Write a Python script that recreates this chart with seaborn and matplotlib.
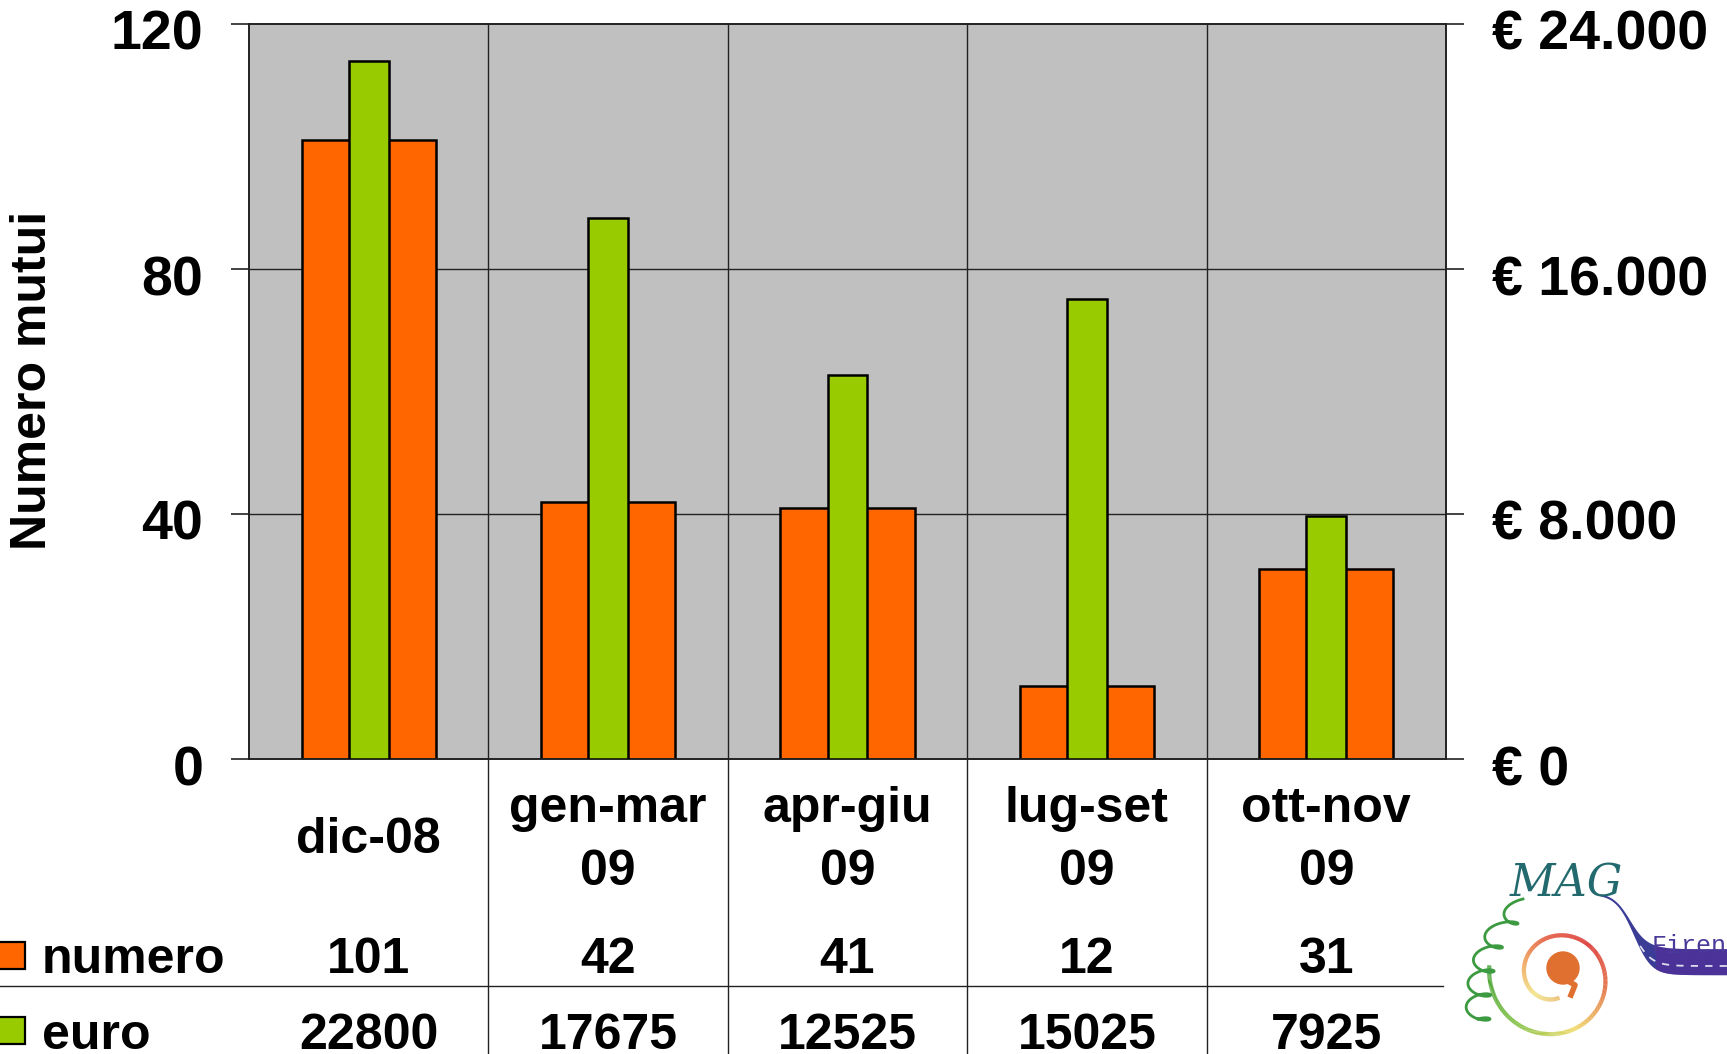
import numpy as np
import pandas as pd
import matplotlib
matplotlib.use("Agg")
import matplotlib.pyplot as plt
import matplotlib.transforms as mtransforms
from matplotlib.patches import Rectangle, Circle
from matplotlib.lines import Line2D
from matplotlib.collections import LineCollection
from matplotlib.colors import LinearSegmentedColormap
import seaborn as sns

# ---- data ----
categories = ["dic-08", "gen-mar\n09", "apr-giu\n09", "lug-set\n09", "ott-nov\n09"]
numero = [101, 42, 41, 12, 31]
euro = [22800, 17675, 12525, 15025, 7925]
left_ticks = [0, 40, 80, 120]
right_ticks = [0, 8000, 16000, 24000]
right_labels = ["€ 0", "€ 8.000", "€ 16.000", "€ 24.000"]
series_names = ["numero", "euro"]

ORANGE = "#FF6600"
GREEN = "#99CC00"
BG = "#C0C0C0"
LINE = "#222222"

plt.rcParams["font.family"] = ["Liberation Sans", "DejaVu Sans"]
plt.rcParams["font.weight"] = "bold"

df = pd.DataFrame({"cat": categories, "numero": numero, "euro": euro})

W, H = 1727, 1054
fig = plt.figure(figsize=(W / 100, H / 100), dpi=100)
ax = fig.add_axes([249 / W, 1 - 759 / H, (1446 - 249) / W, (759 - 24) / H])
ax.set_facecolor(BG)

sns.barplot(data=df, x="cat", y="numero", color=ORANGE, saturation=1, width=0.56,
            edgecolor="black", linewidth=1.8, ax=ax, zorder=3)
ax2 = ax.twinx()
sns.barplot(data=df, x="cat", y="euro", color=GREEN, saturation=1, width=0.167,
            edgecolor="black", linewidth=1.8, ax=ax2, zorder=3)

ax.set_xlim(-0.5, len(categories) - 0.5)
ax2.set_xlim(-0.5, len(categories) - 0.5)
ax.set_ylim(0, 120)
ax2.set_ylim(0, 24000)
ax.set_yticks(left_ticks)
ax.set_yticklabels([str(t) for t in left_ticks])
ax2.set_yticks(right_ticks)
ax2.set_yticklabels(right_labels)
ax.set_xticks([])
ax2.set_xticks([])
ax.set_xlabel("")
ax.set_ylabel("")
ax2.set_ylabel("")
fig.text(33 / W, 1 - 380 / H, "Numero mutui", rotation=90, ha="center", va="center",
         fontsize=36, fontweight="bold")

for a in (ax, ax2):
    a.tick_params(axis="y", length=13, width=1.2, color=LINE, labelsize=40, pad=20)
    for s in a.spines.values():
        s.set_color(LINE)
        s.set_linewidth(1.2)
ax.set_axisbelow(True)
for t in left_ticks[1:-1]:
    ax.axhline(t, color=LINE, lw=1.0, zorder=1)

off = mtransforms.ScaledTranslation(0, -0.06, fig.dpi_scale_trans)
for a in (ax, ax2):
    for lbl in a.get_yticklabels():
        lbl.set_transform(lbl.get_transform() + off)

# category separators (extend into table)
ext = (H - 759) / (759 - 24)
for i in range(1, len(categories)):
    ax.axvline(i - 0.5, ymin=-ext, ymax=1, color=LINE, lw=1.0, clip_on=False, zorder=1)

# table text
trans = mtransforms.blended_transform_factory(ax.transData, fig.transFigure)
for i, c in enumerate(categories):
    ybase = 853 if "\n" not in c else 885
    ax.text(i, 1 - ybase / H, c, transform=trans, ha="center", va="baseline",
            fontsize=36, fontweight="bold", linespacing=1.47)
    ax.text(i, 1 - 973 / H, str(numero[i]), transform=trans, ha="center",
            va="baseline", fontsize=36, fontweight="bold")
    ax.text(i, 1 - 1049 / H, str(euro[i]), transform=trans, ha="center",
            va="baseline", fontsize=36, fontweight="bold")

# table horizontal separator
fig.add_artist(Line2D([0, 1443 / W], [1 - 986 / H, 1 - 986 / H],
                      transform=fig.transFigure, color=LINE, lw=1.0))

# legend keys
for name, col, ytop, ybase in [(series_names[0], ORANGE, 942, 973),
                               (series_names[1], GREEN, 1017, 1049)]:
    fig.add_artist(Rectangle((-4 / W, 1 - (ytop + 27) / H), 29 / W, 27 / H,
                             transform=fig.transFigure, facecolor=col,
                             edgecolor="black", lw=1.6))
    fig.text(42 / W, 1 - ybase / H, name, ha="left", va="baseline",
             fontsize=36, fontweight="bold")

# ---- logo (decoration) ----
lg = fig.add_axes([0, 0, 1, 1], facecolor="none")
lg.set_xlim(0, W)
lg.set_ylim(H, 0)
lg.axis("off")
cx, cy = 1556, 976
th = np.linspace(0.45 * np.pi, 3.05 * np.pi, 500)
r = 22 + 17.5 * (th - 0.45 * np.pi) / np.pi
xs = cx + r * np.cos(th)
ys = cy + r * np.sin(th)
pts = np.column_stack([xs, ys]).reshape(-1, 1, 2)
segs = np.concatenate([pts[:-1], pts[1:]], axis=1)
cm = LinearSegmentedColormap.from_list(
    "lg", ["#E8B050", "#F0E070", "#EE9A40", "#E04020", "#D82020", "#E06030",
           "#F0D860", "#80C040", "#40A030"])
lc = LineCollection(segs, cmap=cm, lw=3)
lc.set_array(np.linspace(0, 1, len(segs)))
lg.add_collection(lc)
lg.add_patch(Circle((1563, 968), 16, color="#E07030"))
lg.plot([1566, 1575, 1571], [980, 985, 995], color="#E07030", lw=4)
t2 = np.linspace(0, 1, 300)
sx = 1478 + 12 * np.sin(t2 * 10 * np.pi) + 45 * t2 ** 3
sy = 1025 - 120 * t2 - 6 * np.cos(t2 * 10 * np.pi)
lg.plot(sx, sy, color="#3C9A40", lw=2)
lg.text(1566, 884, "MAG", fontsize=32, color="#236A6E", style="italic",
        family="DejaVu Serif", fontweight="normal", ha="center", va="center")
bx = np.linspace(1600, 1727, 200)
by = 893 + 70 / (1 + np.exp(-(bx - 1632) / 9))
thick = 2 + 24 / (1 + np.exp(-(bx - 1640) / 7))
lg.fill_between(bx, by - thick * 0.55, by + thick * 0.45, color="#3A3C96", lw=0)
m = bx > 1655
lg.fill_between(bx[m], (by - thick * 0.55)[m], (by + thick * 0.45)[m],
                color="#5A2A9A", lw=0, alpha=0.5)
lg.plot(bx[bx > 1640], by[bx > 1640] + 3, color="#DDDDEE", lw=1.3, ls=(0, (4, 4)))
lg.text(1652, 953, "Firen", fontsize=18, color="#4A3A9A", family="Liberation Mono",
        fontweight="normal", ha="left", va="baseline")

fig.savefig("out.png", dpi=100)
